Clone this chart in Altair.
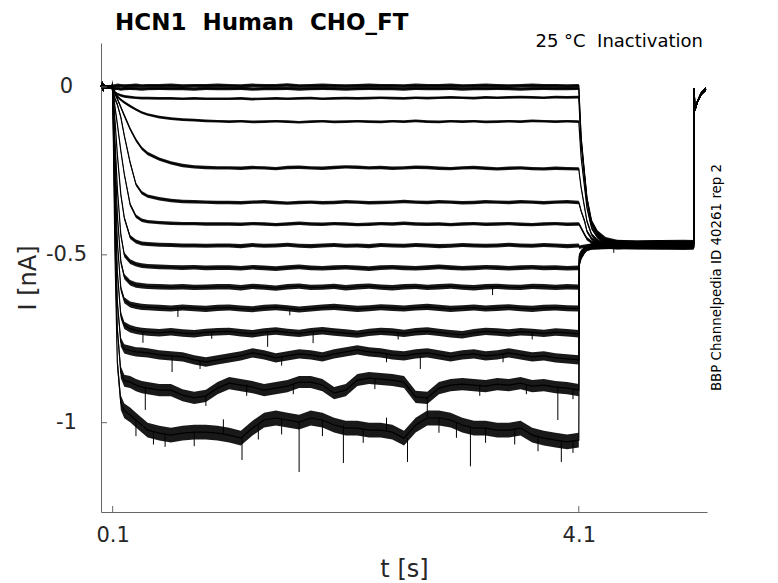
import altair as alt
import pandas as pd

TITLE = "HCN1\u00a0 Human\u00a0 CHO_FT"
SUBTITLE = "25 °C\u00a0 Inactivation"
SIDE_NOTE = "BBP Channelpedia ID 40261 rep 2"
X_TITLE = "t [s]"
Y_TITLE = "I [nA]"
X_TICKS = [0.1, 4.1]
Y_TICKS = [-1, -0.5, 0]
X_DOMAIN = [0.0, 5.2]
Y_DOMAIN = [-1.266, 0.131]

# holding period before the step (shared by all sweeps)
T_PRE = [0.0, 0.012, 0.018, 0.024, 0.03, 0.09]
I_PRE = [0.0, 0.012, -0.01, 0.006, 0.0, 0.0]

# test step 0.1 s -> 4.1 s
T_STEP = [0.1, 0.11, 0.12, 0.14, 0.17, 0.2, 0.25, 0.3, 0.35, 0.4,
          0.5, 0.6, 0.7, 0.8, 0.9, 1.0,
          1.1, 1.2, 1.3, 1.4, 1.5, 1.6, 1.7, 1.8, 1.9, 2.0,
          2.1, 2.2, 2.3, 2.4, 2.5, 2.6, 2.7, 2.8, 2.9, 3.0,
          3.1, 3.2, 3.3, 3.4, 3.5, 3.6, 3.7, 3.8, 3.9, 4.0,
          4.1]

S00 = [0.0, 0.004, 0.003, 0.005, 0.004, 0.003, 0.004, 0.005, 0.003, 0.004,
       0.004, 0.005, 0.003, 0.004, 0.004, 0.005,
       0.004, 0.003, 0.005, 0.004, 0.004, 0.006, 0.003, 0.004, 0.005, 0.004,
       0.003, 0.004, 0.005, 0.004, 0.004, 0.003, 0.005, 0.004, 0.004, 0.005,
       0.003, 0.004, 0.005, 0.004, 0.003, 0.004, 0.005, 0.004, 0.004, 0.003,
       0.004]
S01 = [0.0, -0.004, -0.005, -0.004, -0.006, -0.005, -0.004, -0.005, -0.006, -0.005,
       -0.004, -0.005, -0.005, -0.006, -0.004, -0.005,
       -0.005, -0.004, -0.006, -0.005, -0.005, -0.004, -0.006, -0.005, -0.004, -0.005,
       -0.006, -0.005, -0.004, -0.005, -0.005, -0.006, -0.004, -0.005, -0.005, -0.004,
       -0.006, -0.005, -0.005, -0.004, -0.005, -0.006, -0.005, -0.004, -0.005, -0.005,
       -0.004]
S02 = [0.0, -0.01, -0.016, -0.021, -0.025, -0.028, -0.03, -0.032, -0.033, -0.033,
       -0.034, -0.034, -0.035, -0.034, -0.035, -0.035,
       -0.035, -0.034, -0.036, -0.035, -0.034, -0.035, -0.034, -0.033, -0.035, -0.034,
       -0.033, -0.034, -0.033, -0.032, -0.033, -0.034, -0.032, -0.033, -0.032, -0.031,
       -0.032, -0.033, -0.031, -0.032, -0.031, -0.030, -0.031, -0.032, -0.030, -0.031,
       -0.030]
S03 = [0.0, -0.01, -0.018, -0.028, -0.038, -0.046, -0.057, -0.067, -0.076, -0.082,
       -0.09, -0.094, -0.097, -0.099, -0.101, -0.102,
       -0.103, -0.102, -0.104, -0.103, -0.102, -0.103, -0.105, -0.103, -0.102, -0.104,
       -0.103, -0.102, -0.103, -0.104, -0.102, -0.103, -0.101, -0.103, -0.104, -0.102,
       -0.103, -0.102, -0.104, -0.103, -0.102, -0.103, -0.101, -0.102, -0.103, -0.102,
       -0.103]
S04 = [0.0, -0.01, -0.02, -0.035, -0.06, -0.085, -0.125, -0.158, -0.183, -0.198,
       -0.215, -0.226, -0.234, -0.238, -0.240, -0.241,
       -0.241, -0.242, -0.240, -0.241, -0.243, -0.240, -0.239, -0.241, -0.242, -0.240,
       -0.238, -0.239, -0.241, -0.240, -0.242, -0.241, -0.239, -0.240, -0.242, -0.243,
       -0.241, -0.240, -0.242, -0.244, -0.242, -0.241, -0.243, -0.244, -0.242, -0.243,
       -0.244]
S05 = [0.0, -0.02, -0.035, -0.052, -0.09, -0.145, -0.225, -0.29, -0.315, -0.325,
       -0.333, -0.338, -0.341, -0.342, -0.343, -0.344,
       -0.344, -0.345, -0.343, -0.342, -0.344, -0.346, -0.344, -0.343, -0.345, -0.344,
       -0.342, -0.343, -0.345, -0.344, -0.343, -0.341, -0.343, -0.344, -0.342, -0.343,
       -0.345, -0.344, -0.342, -0.343, -0.344, -0.342, -0.343, -0.345, -0.343, -0.342,
       -0.344]
S06 = [0.0, -0.03, -0.06, -0.11, -0.19, -0.26, -0.35, -0.385, -0.397, -0.401,
       -0.404, -0.406, -0.407, -0.407, -0.408, -0.408,
       -0.408, -0.409, -0.407, -0.408, -0.410, -0.408, -0.406, -0.408, -0.409, -0.407,
       -0.408, -0.410, -0.409, -0.407, -0.408, -0.406, -0.408, -0.409, -0.408, -0.410,
       -0.408, -0.407, -0.409, -0.408, -0.407, -0.409, -0.410, -0.408, -0.407, -0.409,
       -0.408]
S07 = [0.0, -0.05, -0.1, -0.2, -0.32, -0.39, -0.447, -0.46, -0.466, -0.468,
       -0.47, -0.471, -0.472, -0.472, -0.473, -0.472,
       -0.472, -0.474, -0.471, -0.473, -0.472, -0.470, -0.473, -0.474, -0.472, -0.471,
       -0.473, -0.472, -0.474, -0.471, -0.472, -0.473, -0.471, -0.472, -0.474, -0.473,
       -0.471, -0.472, -0.473, -0.472, -0.470, -0.472, -0.473, -0.471, -0.472, -0.474,
       -0.472]
S08 = [0.0, -0.08, -0.16, -0.3, -0.44, -0.5, -0.52, -0.528, -0.532, -0.534,
       -0.536, -0.537, -0.538, -0.537, -0.539, -0.538,
       -0.538, -0.540, -0.537, -0.539, -0.541, -0.538, -0.536, -0.539, -0.540, -0.538,
       -0.537, -0.539, -0.541, -0.538, -0.537, -0.539, -0.540, -0.538, -0.536, -0.538,
       -0.540, -0.539, -0.537, -0.538, -0.540, -0.538, -0.537, -0.539, -0.538, -0.540,
       -0.539]
S09 = [0.0, -0.1, -0.2, -0.38, -0.52, -0.565, -0.583, -0.59, -0.592, -0.594,
       -0.595, -0.596, -0.595, -0.597, -0.596, -0.595,
       -0.595, -0.598, -0.594, -0.596, -0.599, -0.595, -0.593, -0.597, -0.596, -0.594,
       -0.598, -0.595, -0.593, -0.596, -0.598, -0.595, -0.594, -0.597, -0.595, -0.593,
       -0.596, -0.598, -0.595, -0.594, -0.596, -0.597, -0.594, -0.595, -0.597, -0.595,
       -0.596]
S10 = [0.0, -0.12, -0.25, -0.46, -0.6, -0.635, -0.648, -0.652, -0.655, -0.656,
       -0.658, -0.66, -0.657, -0.659, -0.661, -0.658,
       -0.657, -0.660, -0.662, -0.658, -0.656, -0.659, -0.663, -0.660, -0.657, -0.655,
       -0.658, -0.661, -0.659, -0.656, -0.658, -0.660, -0.657, -0.655, -0.658, -0.661,
       -0.659, -0.657, -0.660, -0.658, -0.656, -0.659, -0.661, -0.658, -0.657, -0.659,
       -0.660]
S11 = [0.0, -0.15, -0.3, -0.55, -0.68, -0.71, -0.72, -0.725, -0.728, -0.73,
       -0.732, -0.729, -0.733, -0.735, -0.731, -0.729,
       -0.728, -0.732, -0.735, -0.730, -0.727, -0.731, -0.734, -0.729, -0.726, -0.730,
       -0.733, -0.736, -0.731, -0.728, -0.730, -0.734, -0.729, -0.727, -0.731, -0.735,
       -0.738, -0.732, -0.728, -0.730, -0.733, -0.729, -0.731, -0.734, -0.730, -0.732,
       -0.735]
S12 = [0.0, -0.18, -0.36, -0.64, -0.76, -0.78, -0.785, -0.789, -0.79, -0.792,
       -0.798, -0.801, -0.804, -0.813, -0.819, -0.813,
       -0.807, -0.801, -0.792, -0.798, -0.807, -0.801, -0.795, -0.798, -0.804, -0.795,
       -0.789, -0.783, -0.789, -0.792, -0.798, -0.801, -0.795, -0.792, -0.798, -0.804,
       -0.798, -0.795, -0.801, -0.798, -0.792, -0.798, -0.804, -0.801, -0.807, -0.810,
       -0.813]
S13 = [0.0, -0.2, -0.42, -0.72, -0.85, -0.875, -0.879, -0.888, -0.894, -0.897,
       -0.903, -0.903, -0.918, -0.926, -0.920, -0.897,
       -0.882, -0.888, -0.894, -0.903, -0.897, -0.891, -0.879, -0.879, -0.888, -0.912,
       -0.903, -0.873, -0.867, -0.870, -0.873, -0.879, -0.923, -0.926, -0.897, -0.888,
       -0.885, -0.888, -0.891, -0.885, -0.888, -0.882, -0.891, -0.888, -0.894, -0.897,
       -0.903]
S14 = [0.0, -0.25, -0.5, -0.82, -0.94, -0.965, -0.977, -0.992, -1.007, -1.022,
       -1.031, -1.037, -1.031, -1.028, -1.028, -1.031,
       -1.037, -1.046, -1.016, -0.992, -0.986, -0.992, -0.998, -0.986, -0.992, -1.007,
       -1.016, -1.016, -1.022, -1.022, -1.028, -1.046, -1.007, -0.986, -0.986, -0.992,
       -1.007, -1.016, -1.016, -1.022, -1.022, -1.016, -1.037, -1.046, -1.052, -1.057,
       -1.052]
STEP = [S00, S01, S02, S03, S04, S05, S06, S07, S08, S09, S10, S11, S12, S13, S14]

# noise half-width of each sweep during the step (nA)
NOISE_STEP = [0.005, 0.005, 0.004, 0.004, 0.005, 0.005, 0.005, 0.006,
              0.007, 0.008, 0.009, 0.011, 0.014, 0.018, 0.022]
NOISE_TAIL = 0.005

# tail after the step, 4.1 s -> 5.1 s
T_TAIL = [4.105, 4.12, 4.15, 4.17, 4.21, 4.26, 4.33, 4.43, 4.6, 4.8, 5.0, 5.085]
TAIL = [
    [-0.04, -0.15, -0.26, -0.33, -0.40, -0.432, -0.452, -0.460, -0.462, -0.461, -0.463, -0.462],
    [-0.045, -0.155, -0.265, -0.335, -0.405, -0.437, -0.456, -0.465, -0.467, -0.466, -0.468, -0.467],
    [-0.07, -0.17, -0.27, -0.34, -0.41, -0.44, -0.459, -0.468, -0.470, -0.469, -0.471, -0.470],
    [-0.13, -0.21, -0.30, -0.36, -0.42, -0.447, -0.463, -0.473, -0.475, -0.474, -0.476, -0.475],
    [-0.26, -0.30, -0.36, -0.40, -0.44, -0.458, -0.466, -0.469, -0.470, -0.468, -0.470, -0.469],
    [-0.35, -0.37, -0.40, -0.43, -0.452, -0.463, -0.470, -0.474, -0.476, -0.475, -0.477, -0.476],
    [-0.41, -0.42, -0.44, -0.452, -0.462, -0.466, -0.468, -0.464, -0.466, -0.465, -0.467, -0.466],
    [-0.478, -0.476, -0.474, -0.473, -0.472, -0.471, -0.470, -0.472, -0.471, -0.473, -0.472, -0.471],
    [-0.50, -0.49, -0.48, -0.476, -0.474, -0.473, -0.472, -0.474, -0.473, -0.472, -0.474, -0.473],
    [-0.505, -0.495, -0.483, -0.476, -0.470, -0.466, -0.463, -0.461, -0.462, -0.461, -0.460, -0.461],
    [-0.51, -0.498, -0.485, -0.479, -0.476, -0.475, -0.474, -0.472, -0.474, -0.475, -0.473, -0.474],
    [-0.515, -0.50, -0.487, -0.480, -0.477, -0.476, -0.476, -0.478, -0.476, -0.477, -0.479, -0.478],
    [-0.52, -0.503, -0.489, -0.481, -0.474, -0.470, -0.468, -0.466, -0.469, -0.467, -0.468, -0.467],
    [-0.525, -0.506, -0.49, -0.483, -0.479, -0.478, -0.477, -0.479, -0.478, -0.480, -0.479, -0.478],
    [-0.53, -0.51, -0.492, -0.484, -0.480, -0.479, -0.478, -0.477, -0.479, -0.478, -0.480, -0.479],
]

# return to holding at 5.09 s (shared by all sweeps)
T_END = [5.09, 5.095, 5.12, 5.15, 5.19]
I_END = [-0.004, -0.07, -0.042, -0.02, -0.006]

# isolated noise spikes (time, from, to)
SPIKE_T = [1.21, 1.70, 2.08, 2.63, 3.17, 3.95, 0.55, 0.38, 3.92, 2.80,
           0.61, 2.74, 0.36, 1.43, 1.82, 0.66, 1.62, 3.36, 4.40,
           0.30, 0.45, 0.80, 1.05, 1.35, 1.55, 1.90, 2.25, 2.45, 2.90,
           3.05, 3.30, 3.55, 3.75, 4.05,
           0.90, 1.25, 1.65, 2.35, 3.25, 3.65, 4.05,
           0.85, 1.55, 2.45, 3.45,
           0.95, 2.55, 3.70]
SPIKE_FROM = [-1.046, -0.998, -1.007, -1.046, -1.016, -1.052, -1.037, -0.894, -0.891, -0.926,
              -0.801, -0.801, -0.729, -0.730, -0.730, -0.658, -0.659, -0.596, -0.470,
              -0.992, -1.027, -1.028, -1.034, -1.004, -0.989, -0.992, -1.019, -1.025, -0.986,
              -1.000, -1.016, -1.019, -1.041, -1.055,
              -0.920, -0.885, -0.885, -0.868, -0.886, -0.886, -0.900,
              -0.816, -0.804, -0.795, -0.795,
              -0.730, -0.732, -0.732]
SPIKE_TO = [-1.111, -1.147, -1.120, -1.117, -1.130, -1.117, -1.072, -0.962, -0.992, -0.983,
            -0.849, -0.840, -0.762, -0.774, -0.763, -0.685, -0.680, -0.620, -0.494,
            -1.040, -1.065, -1.070, -0.990, -1.050, -1.035, -1.040, -1.060, -0.985, -1.030,
            -1.045, -1.060, -1.065, -1.085, -1.090,
            -0.950, -0.920, -0.915, -0.900, -0.920, -0.915, -0.930,
            -0.840, -0.830, -0.820, -0.820,
            -0.750, -0.752, -0.752]

for s in STEP:
    assert len(s) == len(T_STEP)
for s in TAIL:
    assert len(s) == len(T_TAIL)
assert len(SPIKE_T) == len(SPIKE_FROM) == len(SPIKE_TO)

rows = []
for k in range(len(STEP)):
    for t, v in zip(T_PRE, I_PRE):
        rows.append((k, t, v, NOISE_TAIL))
    for t, v in zip(T_STEP, STEP[k]):
        rows.append((k, t, v, NOISE_STEP[k]))
    for t, v in zip(T_TAIL, TAIL[k]):
        rows.append((k, t, v, NOISE_TAIL))
    for t, v in zip(T_END, I_END):
        rows.append((k, t, v, NOISE_TAIL))
df = pd.DataFrame(rows, columns=["sweep", "t", "I", "w"])
df["lo"] = df["I"] - df["w"]
df["hi"] = df["I"] + df["w"]

spikes = pd.DataFrame({"t": SPIKE_T, "I": SPIKE_FROM, "I2": SPIKE_TO})

W, H = 606, 469
FONT = "DejaVu Sans"
TXT = "#262626"
AXC = "#666666"

xscale = alt.Scale(domain=X_DOMAIN, nice=False, zero=False)
yscale = alt.Scale(domain=Y_DOMAIN, nice=False, zero=False)

AX_X = alt.Axis(values=X_TICKS, format=".1f", ticks=False, tickSize=0, grid=False,
                labelFontSize=21, labelPadding=12, labelFlush=False,
                title=X_TITLE, titleFontSize=24, titleFontWeight="normal",
                titleBaseline="alphabetic", titleX=W / 2, titleY=64)
AX_Y = alt.Axis(values=Y_TICKS, format="~g", ticks=False, tickSize=0, grid=False,
                labelFontSize=21, labelAlign="center", labelBaseline="middle",
                labelPadding=35, labelExpr="replace(datum.label, '\u2212', '-')",
                title=Y_TITLE, titleFontSize=24, titleFontWeight="normal",
                titleAngle=270, titleBaseline="middle", titleX=-73, titleY=H / 2)


def X(field="t"):
    return alt.X(f"{field}:Q", scale=xscale, axis=AX_X)


def Y(field="I"):
    return alt.Y(f"{field}:Q", scale=yscale, axis=AX_Y)


band = alt.Chart(df).mark_area(color="black", opacity=0.9).encode(
    x=X(), y=Y("lo"), y2="hi:Q", detail="sweep:N")
lines = alt.Chart(df).mark_line(color="black", strokeWidth=1.2).encode(
    x=X(), y=Y(), detail="sweep:N")
spk = alt.Chart(spikes).mark_rule(color="black", strokeWidth=1).encode(
    x=X(), y=Y(), y2="I2:Q")

xt = alt.Chart(pd.DataFrame({"t": X_TICKS})).mark_rule(color=AXC, strokeWidth=1).encode(
    x=X(), y=alt.value(H), y2=alt.value(H - 6))
yt = alt.Chart(pd.DataFrame({"I": Y_TICKS})).mark_rule(color=AXC, strokeWidth=1).encode(
    y=Y(), x=alt.value(0), x2=alt.value(6))

ttl = alt.Chart(pd.DataFrame({"s": [TITLE]})).mark_text(
    font=FONT, fontSize=23, fontWeight="bold", color="black", align="left",
    baseline="alphabetic").encode(
    text="s:N", x=alt.value(14), y=alt.value(-13))
sub = alt.Chart(pd.DataFrame({"s": [SUBTITLE]})).mark_text(
    font=FONT, fontSize=18, color="black", align="right", baseline="alphabetic").encode(
    text="s:N", x=alt.value(W - 4), y=alt.value(4))
side = alt.Chart(pd.DataFrame({"s": [SIDE_NOTE]})).mark_text(
    font=FONT, fontSize=13.4, color="black", align="center", baseline="middle", angle=270).encode(
    text="s:N", x=alt.value(W + 10), y=alt.value(H / 2))

chart = alt.layer(band, lines, spk, xt, yt, ttl, sub, side).properties(
    width=W, height=H,
    autosize=alt.AutoSizeParams(type="none"),
    padding={"left": 93, "top": 35, "right": 55, "bottom": 70},
).configure_view(stroke=None).configure_axis(
    domainColor=AXC, labelColor=TXT, titleColor=TXT, labelFont=FONT, titleFont=FONT
)

chart.save("out.html", embed_options={"renderer": "svg", "actions": False})
